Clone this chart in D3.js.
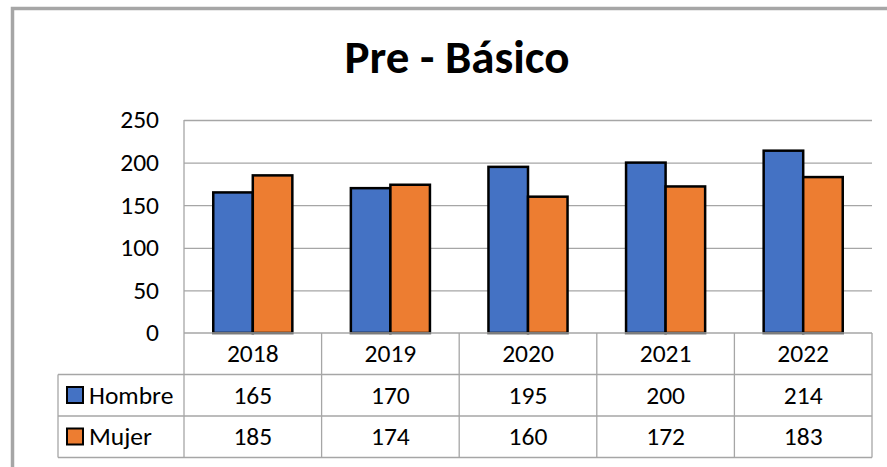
<!DOCTYPE html>
<html>
<head>
<meta charset="utf-8">
<script src="https://cdn.jsdelivr.net/npm/d3@7"></script>
<style>
  body { margin: 0; background: #fff; }
  svg { display: block; font-family: Calibri, Carlito, Lato, sans-serif; }
</style>
</head>
<body>
<svg class="chart" width="887" height="467"></svg>
<script>
const years = ['2018', '2019', '2020', '2021', '2022'];
const seriesNames = ['Hombre', 'Mujer'];
const hombre = [165, 170, 195, 200, 214];
const mujer = [185, 174, 160, 172, 183];
const yTicks = [0, 50, 100, 150, 200, 250];
const colors = ['#4472C4', '#ED7D31'];

const plot = {left: 184, right: 872, top: 120, bottom: 333},
      rowH = 41.5,
      legendLeft = 58,
      gridColor = '#a6a6a6',
      fontSize = '25.5px';

const svg = d3.select('svg.chart');

// outer frame (only top/left visible in the crop)
svg.append('rect')
  .attr('x', 12.5).attr('y', 8.5)
  .attr('width', 900).attr('height', 500)
  .style('fill', 'none')
  .style('stroke', '#a6a6a6')
  .style('stroke-width', 3.5);

svg.append('text')
  .text('Pre - Básico')
  .attr('x', 457)
  .attr('y', 73)
  .style('text-anchor', 'middle')
  .style('font-size', '47px')
  .style('font-weight', 700)
  .style('fill', '#000');

const x = d3.scaleBand()
  .domain(years)
  .range([plot.left, plot.right]);

const x1 = d3.scaleBand()
  .domain(seriesNames)
  .range([0, x.bandwidth()])
  .paddingOuter(0.74);

const y = d3.scaleLinear()
  .domain([0, 250])
  .range([plot.bottom, plot.top]);

// gridlines
svg.append('g').selectAll('line')
  .data(yTicks.filter(d => d > 0))
  .enter().append('line')
    .attr('x1', plot.left).attr('x2', plot.right)
    .attr('y1', d => y(d) + 0.5).attr('y2', d => y(d) + 0.5)
    .style('stroke', gridColor)
    .style('stroke-width', 1.3);

// y axis labels
svg.append('g').selectAll('text')
  .data(yTicks)
  .enter().append('text')
    .attr('x', 159)
    .attr('y', d => y(d))
    .attr('dy', '0.33em')
    .text(d => d)
    .style('text-anchor', 'end')
    .style('font-size', fontSize)
    .style('fill', '#000');

// bars
const seriesData = [hombre, mujer];
const groups = svg.append('g').selectAll('g')
  .data(seriesData)
  .enter().append('g')
    .style('fill', (d, i) => colors[i]);

groups.selectAll('rect')
  .data((vals, i) => vals.map((v, j) => ({year: years[j], value: v, name: seriesNames[i]})))
  .enter().append('rect')
    .attr('x', d => x(d.year) + x1(d.name))
    .attr('y', d => y(d.value))
    .attr('width', x1.bandwidth())
    .attr('height', d => y(0) - y(d.value))
    .style('stroke', '#000')
    .style('stroke-width', 2.5);

// data table
const table = svg.append('g')
  .style('stroke', gridColor)
  .style('stroke-width', 1.3);

const r0 = plot.bottom,
      r1 = r0 + rowH,
      r2 = r1 + rowH,
      r3 = r2 + rowH;

table.append('line').attr('x1', plot.left).attr('x2', plot.right).attr('y1', r0).attr('y2', r0);
[r1, r2, r3].forEach(ry => {
  table.append('line').attr('x1', legendLeft).attr('x2', plot.right).attr('y1', ry).attr('y2', ry);
});
table.append('line').attr('x1', plot.left).attr('x2', plot.left).attr('y1', plot.top).attr('y2', r3);
table.append('line').attr('x1', legendLeft).attr('x2', legendLeft).attr('y1', r1).attr('y2', r3);
table.selectAll('line.col')
  .data(years)
  .enter().append('line')
    .attr('class', 'col')
    .attr('x1', d => x(d) + x.bandwidth()).attr('x2', d => x(d) + x.bandwidth())
    .attr('y1', r0).attr('y2', r3);

// header row
svg.append('g').selectAll('text')
  .data(years)
  .enter().append('text')
    .attr('x', d => x(d) + x.bandwidth() / 2)
    .attr('y', r0 + 29)
    .text(d => d)
    .style('text-anchor', 'middle')
    .style('font-size', fontSize);

// value rows
seriesData.forEach((vals, i) => {
  const rowTop = r1 + i * rowH;
  const row = svg.append('g');

  row.selectAll('text')
    .data(vals)
    .enter().append('text')
      .attr('x', (d, j) => x(years[j]) + x.bandwidth() / 2)
      .attr('y', rowTop + 29)
      .text(d => d)
      .style('text-anchor', 'middle')
      .style('font-size', fontSize);

  row.append('rect')
    .attr('x', 67).attr('y', rowTop + 12.5)
    .attr('width', 16).attr('height', 16)
    .style('fill', colors[i])
    .style('stroke', '#000')
    .style('stroke-width', 2);

  row.append('text')
    .attr('x', 89)
    .attr('y', rowTop + 29)
    .text(seriesNames[i])
    .style('font-size', fontSize);
});
</script>
</body>
</html>
